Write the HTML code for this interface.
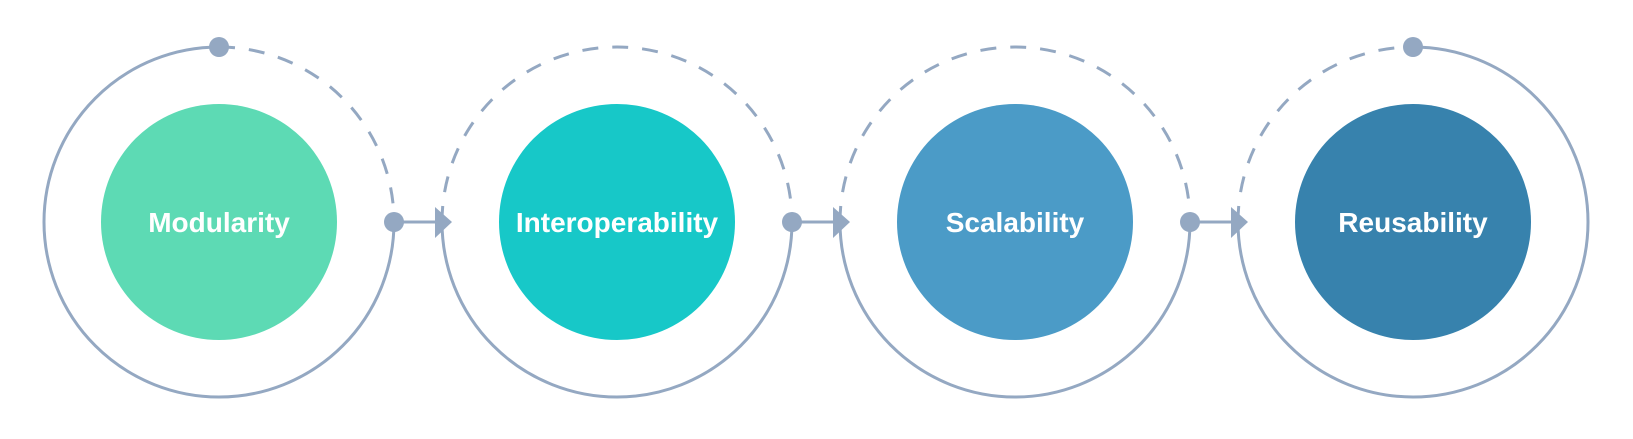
<!DOCTYPE html>
<html><head><meta charset="utf-8"><style>
html,body{margin:0;padding:0;background:#fff;}
svg{display:block}
text{font-family:"Liberation Sans",sans-serif;font-weight:bold;font-size:28px;fill:#fff}
</style></head><body>
<svg width="1633" height="439" viewBox="0 0 1633 439" xmlns="http://www.w3.org/2000/svg">
<g fill="none" stroke="#94A8C2" stroke-width="3">
 <path d="M219,47 A175,175 0 1 0 394,222"/>
 <path d="M219,47 A175,175 0 0 1 394,222" stroke-dasharray="16 14"/>
 <path d="M442,222 A175,175 0 0 0 792,222"/>
 <path d="M442,222 A175,175 0 0 1 792,222" stroke-dasharray="16 14"/>
 <path d="M840,222 A175,175 0 0 0 1190,222"/>
 <path d="M840,222 A175,175 0 0 1 1190,222" stroke-dasharray="16 14"/>
 <path d="M1413,47 A175,175 0 1 1 1238,222"/>
 <path d="M1238,222 A175,175 0 0 1 1413,47" stroke-dasharray="16 14"/>
 <line x1="394" y1="222" x2="437" y2="222"/>
 <line x1="792" y1="222" x2="835" y2="222"/>
 <line x1="1190" y1="222" x2="1233" y2="222"/>
</g>
<g fill="#94A8C2">
 <circle cx="219" cy="47" r="10"/>
 <circle cx="394" cy="222" r="10"/>
 <circle cx="792" cy="222" r="10"/>
 <circle cx="1190" cy="222" r="10"/>
 <circle cx="1413" cy="47" r="10"/>
 <polygon points="435,207 452,222 435,238"/>
 <polygon points="833,207 850,222 833,238"/>
 <polygon points="1231,207 1248,222 1231,238"/>
</g>
<circle cx="219" cy="222" r="118" fill="#5DDAB4"/>
<circle cx="617" cy="222" r="118" fill="#17C8C8"/>
<circle cx="1015" cy="222" r="118" fill="#4B9BC7"/>
<circle cx="1413" cy="222" r="118" fill="#3782AD"/>
<text x="219" y="232" text-anchor="middle">Modularity</text>
<text x="617" y="232" text-anchor="middle">Interoperability</text>
<text x="1015" y="232" text-anchor="middle">Scalability</text>
<text x="1413" y="232" text-anchor="middle">Reusability</text>
</svg>
</body></html>
